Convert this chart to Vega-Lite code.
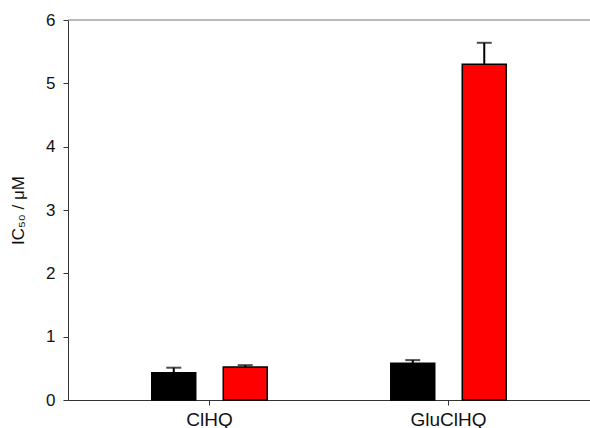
{
  "$schema": "https://vega.github.io/schema/vega-lite/v6.json",
  "autosize": {"type": "none"},
  "padding": {"left": 68, "top": 20, "right": 0, "bottom": 28},
  "width": 522,
  "height": 380,
  "background": "white",
  "config": {
    "view": {"stroke": null},
    "font": "Liberation Sans",
    "axis": {"grid": false, "domainColor": "#333333", "tickColor": "#333333", "labelColor": "#111111", "titleColor": "#111111", "labelFont": "Liberation Sans", "titleFont": "Liberation Sans", "titleFontWeight": "normal", "tickSize": 5},
    "axisX": {"labelPadding": 5, "labelFontSize": 19},
    "axisY": {"labelPadding": 8, "titlePadding": 18, "labelFontSize": 17, "titleFontSize": 17}
  },
  "data": {"values": [
    {"compound": "ClHQ", "group": "A", "value": 0.43, "upper": 0.51},
    {"compound": "ClHQ", "group": "B", "value": 0.52, "upper": 0.55},
    {"compound": "GluClHQ", "group": "A", "value": 0.58, "upper": 0.63},
    {"compound": "GluClHQ", "group": "B", "value": 5.30, "upper": 5.64}
  ]},
  "encoding": {
    "x": {"field": "compound", "type": "nominal", "sort": ["ClHQ", "GluClHQ"],
      "scale": {"paddingInner": 0, "paddingOuter": 0.092},
      "axis": {"title": null, "labelAngle": 0}},
    "xOffset": {"field": "group", "type": "nominal", "scale": {"paddingInner": 0.385, "paddingOuter": 0.864}}
  },
  "layer": [
    {
      "mark": {"type": "bar", "stroke": "black", "strokeWidth": 1.5},
      "encoding": {
        "y": {"field": "value", "type": "quantitative",
          "scale": {"domain": [0, 6], "nice": false},
          "axis": {"title": "IC₅₀ / μM", "values": [0, 1, 2, 3, 4, 5, 6], "format": "d"}},
        "color": {"field": "group", "type": "nominal", "scale": {"domain": ["A", "B"], "range": ["#000000", "#ff0000"]}, "legend": null}
      }
    },
    {
      "mark": {"type": "rule", "color": "black", "strokeWidth": 2},
      "encoding": {
        "y": {"field": "value", "type": "quantitative"},
        "y2": {"field": "upper"}
      }
    },
    {
      "mark": {"type": "tick", "color": "black", "thickness": 2, "size": 15, "orient": "horizontal"},
      "encoding": {
        "y": {"field": "upper", "type": "quantitative"}
      }
    },
    {
      "data": {"values": [{"top": 6}]},
      "mark": {"type": "rule", "color": "#777777", "strokeWidth": 1},
      "encoding": {"y": {"field": "top", "type": "quantitative"}, "x": null, "xOffset": null}
    }
  ]
}
